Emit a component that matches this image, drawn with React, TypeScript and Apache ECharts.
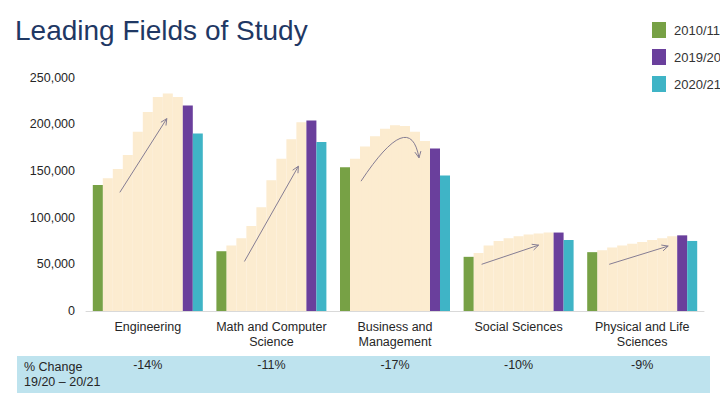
import React, { useEffect, useRef } from 'react';
import * as echarts from 'echarts';

// ---- Data ----
const categories = [
  'Engineering',
  'Math and Computer\nScience',
  'Business and\nManagement',
  'Social Sciences',
  'Physical and Life\nSciences',
];
const legendYears = ['2010/11', '2019/20', '2020/21'];
const values2010 = [135000, 64000, 154000, 58000, 63000];
const values2019 = [220000, 204000, 174000, 84000, 81000];
const values2020 = [190000, 181000, 145000, 76000, 75000];

const interimYears = ['2011/12', '2012/13', '2013/14', '2014/15', '2015/16', '2016/17', '2017/18', '2018/19'];
const interimEngineering = [142000, 152000, 167000, 192000, 213000, 229000, 233000, 229000];
const interimMath = [70000, 78000, 91000, 111000, 140000, 163000, 184000, 202000];
const interimBusiness = [163000, 176000, 187000, 195000, 199000, 198000, 192000, 182000];
const interimSocial = [62000, 70000, 75000, 78000, 80000, 82000, 83000, 84000];
const interimPhysical = [65000, 68000, 70000, 72000, 74000, 76000, 78000, 80000];

const pctChange = ['-14%', '-11%', '-17%', '-10%', '-9%'];
const pctRowLabel = '% Change\n19/20 \u2013 20/21';
const yTickMax = 250000;
const yTickStep = 50000;

// arrows: [year slot (0 = 2010/11 ... 9 = 2019/20), value]
const arrowFrom = [[2.2, 127000], [2.3, 53000], [1.6, 139000], [1.3, 50000], [1.7, 50000]];
const arrowTo = [[6.9, 206000], [7.7, 155000], [7.4, 164000], [7.0, 70500], [7.6, 69500]];
const arrowBend: (number[] | null)[] = [null, null, [6.5, 218000], null, null];

// ---- Styles ----
const GREEN = '#77a145';
const PURPLE = '#6a3f9c';
const TEAL = '#3fb4c6';
const BEIGE = '#fcecd0';
const ARROW = '#857d93';
const FONT = 'Liberation Sans, Arial, sans-serif';
const BAR_W = 10;
const SLOT_MID = 5;

export default function App() {
  const ref = useRef<HTMLDivElement>(null);

  useEffect(() => {
    if (!ref.current) return;
    const chart = echarts.init(ref.current, null, { renderer: 'svg' });
    const interimByField = [interimEngineering, interimMath, interimBusiness, interimSocial, interimPhysical];

    const barBase = { type: 'bar', barWidth: BAR_W, barGap: '0%', silent: true };

    const series: any[] = [
      { ...barBase, name: legendYears[0], data: values2010, z: 3, itemStyle: { color: GREEN } },
      ...interimYears.map((yr, j) => ({
        ...barBase,
        name: yr,
        z: 2,
        data: interimByField.map((arr) => arr[j]),
        itemStyle: { color: BEIGE, borderColor: BEIGE, borderWidth: 1.6 },
      })),
      { ...barBase, name: legendYears[1], data: values2019, z: 3, itemStyle: { color: PURPLE } },
      { ...barBase, name: legendYears[2], data: values2020, z: 3, itemStyle: { color: TEAL } },
      {
        type: 'custom',
        name: 'trend',
        silent: true,
        z: 10,
        encode: { x: 0, y: 2 },
        data: arrowFrom.map((f, i) => {
          const b = arrowBend[i];
          return [i, f[0], f[1], arrowTo[i][0], arrowTo[i][1], b ? b[0] : null, b ? b[1] : null];
        }),
        renderItem: (params: any, api: any) => {
          const cat = api.value(0);
          const pt = (k: number, v: number) => {
            const c = api.coord([cat, v]);
            return [c[0] + (k - SLOT_MID) * BAR_W, c[1]];
          };
          const p0 = pt(api.value(1), api.value(2));
          const p1 = pt(api.value(3), api.value(4));
          const kc = api.value(5);
          const vc = api.value(6);
          const hasBend = kc != null && !isNaN(kc) && vc != null && !isNaN(vc);
          const style = { stroke: ARROW, lineWidth: 1, fill: 'none' };
          let from = p0;
          const children: any[] = [];
          if (hasBend) {
            const pc = pt(kc, vc);
            from = pc;
            children.push({
              type: 'bezierCurve',
              shape: { x1: p0[0], y1: p0[1], x2: p1[0], y2: p1[1], cpx1: pc[0], cpy1: pc[1] },
              style,
            });
          } else {
            children.push({
              type: 'line',
              shape: { x1: p0[0], y1: p0[1], x2: p1[0], y2: p1[1] },
              style,
            });
          }
          const ang = Math.atan2(p1[1] - from[1], p1[0] - from[0]);
          const L = 7;
          const w = 0.45;
          children.push({
            type: 'polyline',
            shape: {
              points: [
                [p1[0] - L * Math.cos(ang - w), p1[1] - L * Math.sin(ang - w)],
                [p1[0], p1[1]],
                [p1[0] - L * Math.cos(ang + w), p1[1] - L * Math.sin(ang + w)],
              ],
            },
            style,
          });
          return { type: 'group', children };
        },
      },
    ];

    chart.setOption({
      animation: false,
      backgroundColor: '#ffffff',
      textStyle: { fontFamily: FONT },
      title: {
        text: 'Leading Fields of Study',
        left: 15,
        top: 16,
        padding: 0,
        textStyle: { fontSize: 28, fontWeight: 'normal', color: '#1f3864', fontFamily: FONT },
      },
      legend: {
        data: legendYears,
        orient: 'vertical',
        left: 652,
        top: 22,
        padding: 0,
        itemWidth: 14,
        itemHeight: 16,
        itemGap: 11,
        icon: 'rect',
        textStyle: { fontSize: 13, color: '#333333', padding: [0, 0, 0, 3], fontFamily: FONT },
      },
      grid: { left: 86, right: 16, top: 77.5, bottom: 83, containLabel: false },
      xAxis: [
        {
          type: 'category',
          data: categories,
          axisLine: { lineStyle: { color: '#d9d9d9' } },
          axisTick: { show: false },
          axisLabel: { interval: 0, fontSize: 12.5, lineHeight: 15, margin: 8, color: '#262626' },
        },
        {
          type: 'category',
          data: pctChange,
          position: 'bottom',
          offset: 40,
          axisLine: { show: false },
          axisTick: { show: false },
          axisLabel: { interval: 0, fontSize: 12.5, margin: 7.5, color: '#262626' },
        },
      ],
      yAxis: {
        type: 'value',
        min: 0,
        max: yTickMax,
        interval: yTickStep,
        splitLine: { show: false },
        axisLine: { show: false },
        axisTick: { show: false },
        axisLabel: {
          fontSize: 12.5,
          margin: 11,
          color: '#262626',
          formatter: (v: number) => v.toLocaleString('en-US'),
        },
      },
      graphic: [
        {
          type: 'rect',
          z: -1,
          shape: { x: 17, y: 356, width: 693, height: 37 },
          style: { fill: '#bee3ee' },
          silent: true,
        },
        {
          type: 'text',
          x: 24,
          y: 359,
          silent: true,
          style: {
            text: pctRowLabel,
            fontSize: 12.5,
            lineHeight: 15,
            fill: '#262626',
            fontFamily: FONT,
            verticalAlign: 'top',
          },
        },
      ],
      series,
    });
    return () => chart.dispose();
  }, []);

  return (
    <div
      ref={ref}
      style={{ position: 'fixed', left: 0, top: 0, width: 720, height: 394, background: '#fff' }}
    />
  );
}
